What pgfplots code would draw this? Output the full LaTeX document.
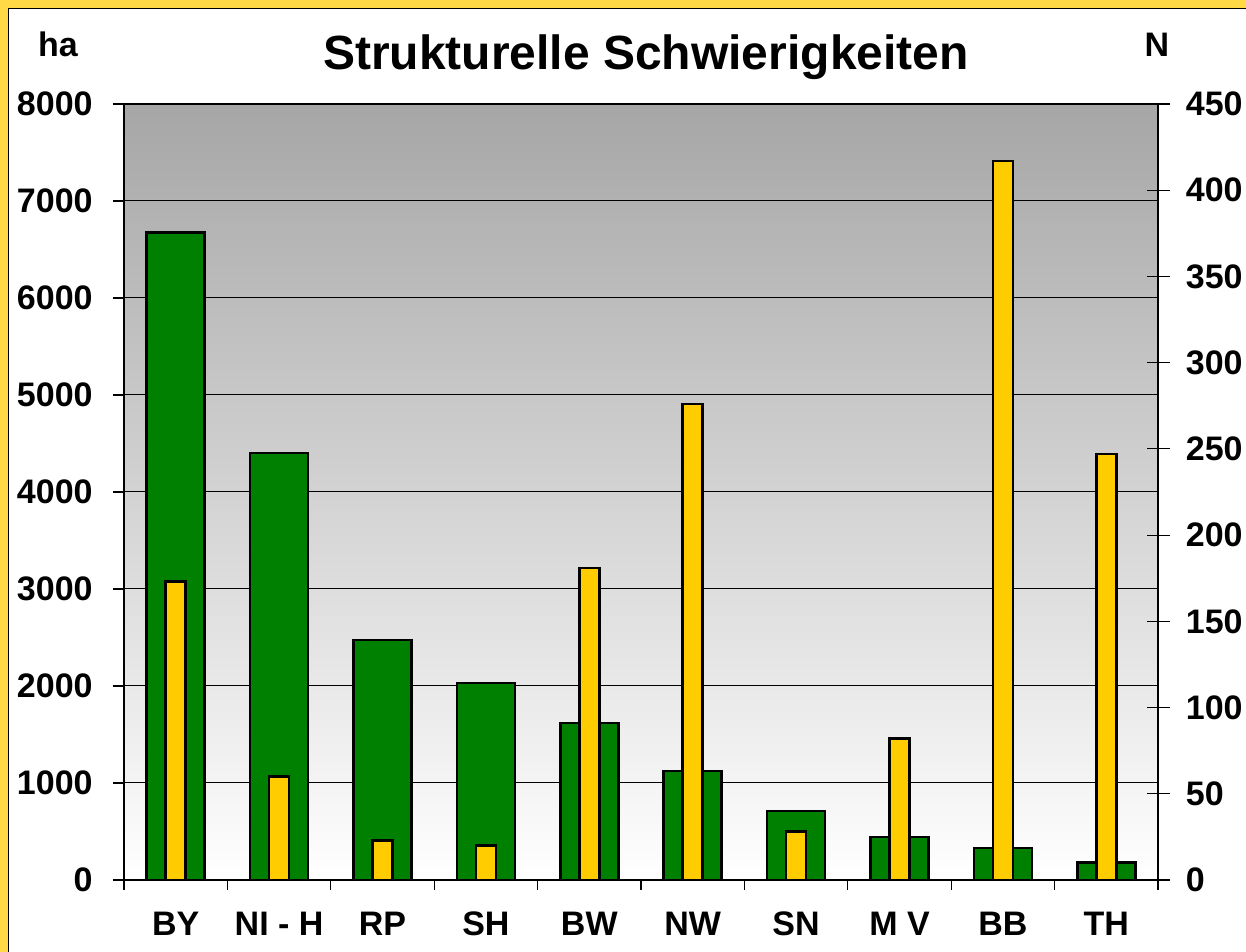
\documentclass[border=0pt]{standalone}
\usepackage{pgfplots}
\pgfplotsset{compat=1.18}
\usepackage{fontspec}
\setmainfont{Liberation Sans}
\definecolor{barGreen}{RGB}{0,128,0}
\definecolor{barYellow}{RGB}{255,204,0}
\definecolor{frameYellow}{RGB}{255,217,70}
\definecolor{bgTop}{RGB}{166,166,166}
\newcommand{\lblfont}{\fontsize{17bp}{20bp}\selectfont\bfseries}
\begin{document}
\begin{tikzpicture}
\useasboundingbox (-62bp,-36bp) rectangle (561bp,440bp);
\fill[frameYellow] (-62bp,-36bp) rectangle (561bp,440bp);
\filldraw[fill=white,draw=black,line width=0.5bp] (-57.5bp,-40bp) rectangle (565bp,435.5bp);
\begin{axis}[
  at={(0bp,0bp)}, anchor=south west,
  scale only axis, width=517bp, height=388bp,
  xmin=-0.5, xmax=9.5, ymin=0, ymax=8000,
  axis background/.style={top color=bgTop, bottom color=white},
  axis line style={black, line width=1.2bp},
  ybar, bar width=29bp,
  ytick={0,1000,...,8000}, ytick pos=left,
  scaled y ticks=false,
  /pgf/number format/1000 sep={},
  /pgf/number format/assume math mode=true,
  xtick={0,...,9}, xtick pos=bottom,
  xticklabels={BY,NI - H,RP,SH,BW,NW,SN,M V,BB,TH},
  minor xtick={-0.5,0.5,...,9.5},
  major x tick style={draw=none},
  tick align=outside,
  major tick length=5.5bp, minor tick length=5bp,
  tick style={black, line width=0.6bp},
  ymajorgrids, grid style={black, line width=0.5bp},
  ticklabel style={font=\lblfont},
  yticklabel style={inner sep=0pt, xshift=-10bp},
  xticklabel style={inner sep=0pt, text height=12.3bp, text depth=0pt, yshift=-10bp},
]
\addplot[draw=black, line width=1.3bp, fill=barGreen] coordinates {
 (0,6675) (1,4400) (2,2474) (3,2031) (4,1619) (5,1124) (6,711) (7,443) (8,330) (9,178)};
\end{axis}
\begin{axis}[
  at={(0bp,0bp)}, anchor=south west,
  scale only axis, width=517bp, height=388bp,
  xmin=-0.5, xmax=9.5, ymin=0, ymax=450,
  axis x line=none, axis y line*=right,
  axis line style={black, line width=1.2bp},
  ybar, bar width=10bp,
  ytick={0,50,...,450},
  /pgf/number format/assume math mode=true,
  tick align=center, major tick length=11.5bp,
  tick style={black, line width=0.6bp},
  ticklabel style={font=\lblfont},
  yticklabel style={inner sep=0pt, xshift=8bp},
]
\addplot[draw=black, line width=1.3bp, fill=barYellow] coordinates {
 (0,173) (1,60) (2,23) (3,20) (4,181) (5,276) (6,28) (7,82) (8,417) (9,247)};
\end{axis}
\node[anchor=base, font=\fontsize{24bp}{28bp}\selectfont\bfseries] at (261bp,405bp) {Strukturelle Schwierigkeiten};
\node[anchor=base, font=\lblfont] at (-33bp,411.5bp) {ha};
\node[anchor=base, font=\lblfont] at (516.5bp,411.5bp) {N};
\end{tikzpicture}
\end{document}
